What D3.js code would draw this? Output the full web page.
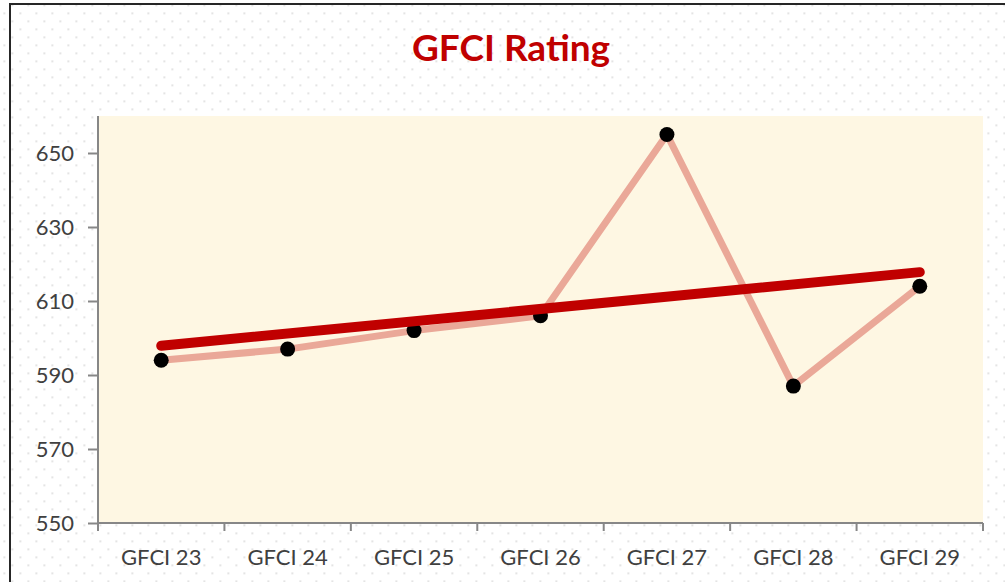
<!DOCTYPE html>
<html>
<head>
<meta charset="utf-8">
<script src="https://cdn.jsdelivr.net/npm/d3@7"></script>
<style>
  body { margin: 0; background: #fff; }
  svg { display: block; }
  .axis text { font-family: Lato, "Open Sans", sans-serif; font-size: 22px; fill: #404040; }
  .axis path, .axis line { stroke: #878787; stroke-width: 2px; }
</style>
</head>
<body>
<div id="chart"></div>
<script>
// categories and values
const categories = ['GFCI 23', 'GFCI 24', 'GFCI 25', 'GFCI 26', 'GFCI 27', 'GFCI 28', 'GFCI 29'];
const ratings = [594, 597, 602, 606, 655, 587, 614];
// linear trend line, start and end values as shown
const trendCats = ['GFCI 23', 'GFCI 29'];
const trendValues = [597.9, 617.8];
const yTicks = [550, 570, 590, 610, 630, 650];

const width = 1005, height = 582;
const plot = {left: 98, top: 116, right: 983, bottom: 523};

let svg = d3.select('#chart').append('svg')
    .attr('width', width)
    .attr('height', height);

// dotted background
let pat = svg.append('defs').append('pattern')
    .attr('id', 'dots')
    .attr('patternUnits', 'userSpaceOnUse')
    .attr('width', 16).attr('height', 16)
    .attr('x', 3.5).attr('y', 12.5);
pat.append('rect').attr('x', 0).attr('y', 0).attr('width', 1.6).attr('height', 1.6).attr('fill', '#d4d4d4');
pat.append('rect').attr('x', 8).attr('y', 8).attr('width', 1.6).attr('height', 1.6).attr('fill', '#d4d4d4');

svg.append('rect').attr('width', width).attr('height', height).attr('fill', 'url(#dots)');

// chart border (top and left visible)
svg.append('path')
    .attr('d', `M10,${height} L10,4 L${width},4`)
    .attr('fill', 'none')
    .attr('stroke', '#262626')
    .attr('stroke-width', 2);

// title
svg.append('text')
    .attr('x', 511)
    .attr('y', 61)
    .attr('text-anchor', 'middle')
    .style('font-family', 'Lato, "Open Sans", sans-serif')
    .style('font-weight', 'bold')
    .style('font-size', '37px')
    .style('fill', '#c00000')
    .text('GFCI Rating');

let x = d3.scaleBand()
    .domain(categories)
    .range([plot.left, plot.right]);

let y = d3.scaleLinear()
    .domain([550, 660])
    .range([plot.bottom, plot.top]);

let cx = d => x(d) + x.bandwidth() / 2;

// plot area fill
svg.append('rect')
    .attr('x', plot.left)
    .attr('y', plot.top)
    .attr('width', plot.right - plot.left)
    .attr('height', plot.bottom - plot.top)
    .attr('fill', '#fef7e3');

// y axis
svg.append('g')
    .attr('class', 'axis')
    .attr('transform', `translate(${plot.left},0)`)
    .call(d3.axisLeft(y).tickValues(yTicks).tickSize(10).tickPadding(14).tickSizeOuter(0))
    .call(g => g.select('.domain').attr('d', `M0,${plot.top}V${plot.bottom}`))
    .selectAll('text').attr('dy', '0.36em');

// x axis: ticks on category boundaries
let xAxis = svg.append('g')
    .attr('class', 'axis')
    .attr('transform', `translate(0,${plot.bottom})`);

xAxis.append('path')
    .attr('d', `M${plot.left},0H${plot.right}`)
    .attr('stroke', '#878787')
    .attr('stroke-width', 2);

xAxis.selectAll('.tickmark')
    .data(categories.concat(['end']))
    .join('line')
    .attr('class', 'tickmark')
    .attr('x1', (d, i) => plot.left + i * x.step())
    .attr('x2', (d, i) => plot.left + i * x.step())
    .attr('y1', 0)
    .attr('y2', 8);

xAxis.selectAll('.label')
    .data(categories)
    .join('text')
    .attr('class', 'label')
    .attr('x', d => cx(d))
    .attr('y', 42)
    .attr('text-anchor', 'middle')
    .text(d => d);

// rating line
let line = d3.line()
    .x((d, i) => cx(categories[i]))
    .y(d => y(d));

svg.append('path')
    .datum(ratings)
    .attr('d', line)
    .attr('fill', 'none')
    .attr('stroke', '#eaa898')
    .attr('stroke-width', 7)
    .attr('stroke-linejoin', 'round');

svg.selectAll('.marker')
    .data(ratings)
    .join('circle')
    .attr('class', 'marker')
    .attr('cx', (d, i) => cx(categories[i]))
    .attr('cy', d => y(d))
    .attr('r', 7.5)
    .attr('fill', '#000');

// trend line
svg.append('path')
    .datum(trendValues)
    .attr('d', d3.line().x((d, i) => cx(trendCats[i])).y(d => y(d)))
    .attr('fill', 'none')
    .attr('stroke', '#c00000')
    .attr('stroke-width', 10)
    .attr('stroke-linecap', 'round');
</script>
</body>
</html>
